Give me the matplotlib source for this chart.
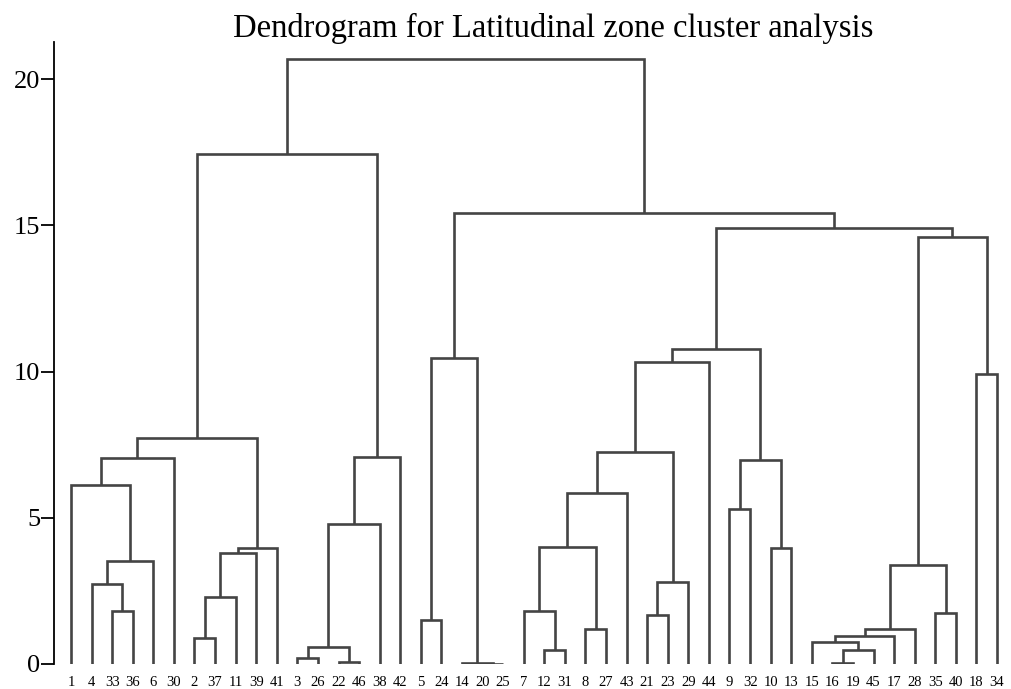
import matplotlib.pyplot as plt

plt.rcParams['font.family'] = ['Liberation Serif', 'DejaVu Serif']

# leaf order along the x axis (left to right)
leaf_order = [1, 4, 33, 36, 6, 30, 2, 37, 11, 39, 41, 3, 26, 22, 46, 38, 42,
              5, 24, 14, 20, 25, 7, 12, 31, 8, 27, 43, 21, 23, 29, 44,
              9, 32, 10, 13, 15, 16, 19, 45, 17, 28, 35, 40, 18, 34]

# merges: (left, right, height); ints are leaves, 'mK' refers to merge K
merge_left = [33, 4, 'm1', 1, 'm3', 2, 'm5', 'm6', 'm7', 'm4',
              3, 22, 'm10', 'm12', 'm13', 'm9',
              5, 20, 14, 'm16',
              12, 7, 8, 'm21', 'm23', 21, 'm25', 'm24', 'm27', 9, 10, 'm29', 'm28',
              16, 'm33', 15, 'm35', 'm36', 35, 'm37', 18, 'm39', 'm32', 'm19', 'm15']
merge_right = [36, 'm0', 6, 'm2', 30, 37, 11, 39, 41, 'm8',
               26, 46, 'm11', 38, 42, 'm14',
               24, 25, 'm17', 'm18',
               31, 'm20', 27, 'm22', 43, 23, 29, 'm26', 44, 32, 13, 'm30', 'm31',
               19, 45, 'm34', 17, 28, 40, 'm38', 34, 'm40', 'm41', 'm42', 'm43']
merge_height = [1.81, 2.75, 3.52, 6.12, 7.04, 0.89, 2.30, 3.78, 3.98, 7.72,
                0.22, 0.06, 0.59, 4.80, 7.09, 17.44,
                1.50, 0.00, 0.03, 10.46,
                0.48, 1.82, 1.20, 3.99, 5.84, 1.68, 2.79, 7.26, 10.32, 5.31, 3.98, 6.96, 10.77,
                0.03, 0.48, 0.76, 0.96, 1.20, 1.75, 3.37, 9.91, 14.60, 14.90, 15.42, 20.68]

fig = plt.figure(figsize=(10.11, 6.89), dpi=100)
ax = fig.add_axes([54 / 1011, 25 / 689, (1011 - 54) / 1011, (664 - 42) / 689])

pos = {lab: i for i, lab in enumerate(leaf_order)}
hgt = {lab: 0.0 for lab in leaf_order}

for k, (a, b, h) in enumerate(zip(merge_left, merge_right, merge_height)):
    xa, xb = pos[a], pos[b]
    ha, hb = hgt[a], hgt[b]
    ax.plot([xa, xa, xb, xb], [ha, h, h, hb], color='#444444', lw=1.9,
            solid_joinstyle='miter', solid_capstyle='butt')
    pos['m%d' % k] = (xa + xb) / 2
    hgt['m%d' % k] = h

ax.set_xlim(-0.826, 45.68)
ax.set_ylim(0, 21.27)
ax.set_xticks(range(len(leaf_order)))
ax.set_xticklabels([str(v) for v in leaf_order], fontsize=10.5)
ax.tick_params(axis='x', length=0, pad=8.5)
ax.set_yticks([0, 5, 10, 15, 20])
ax.tick_params(axis='y', direction='out', length=9.5, width=1.3, labelsize=19, pad=0.5)
for s in ['top', 'right', 'bottom']:
    ax.spines[s].set_visible(False)
ax.spines['left'].set_linewidth(1.3)

fig.text(553 / 1011, 1 - 37 / 689, 'Dendrogram for Latitudinal zone cluster analysis',
         ha='center', va='baseline', fontsize=23.5)

plt.savefig('out.png', dpi=100)
